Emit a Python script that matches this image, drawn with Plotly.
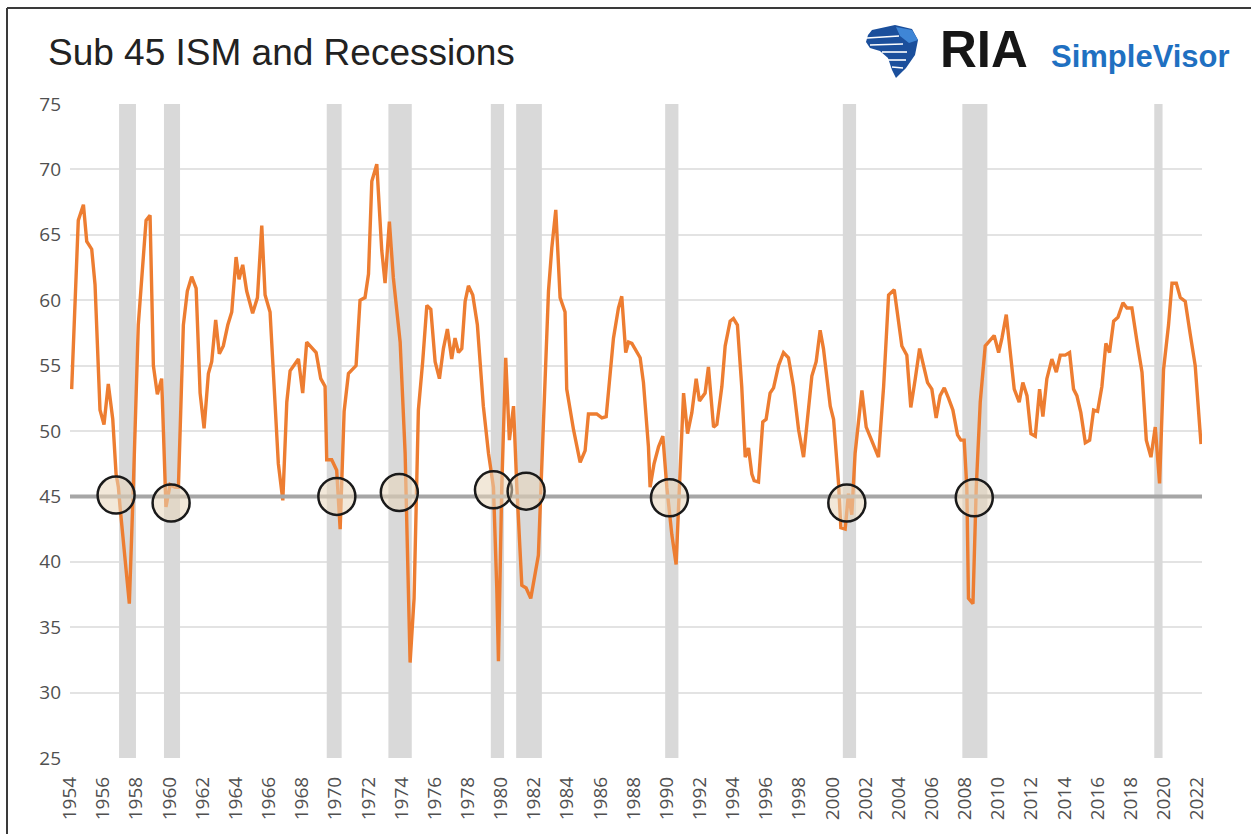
import plotly.graph_objects as go

# ---------------- data ----------------
YEARS = [
    1954.10, 1954.50, 1954.81, 1955.01, 1955.31, 1955.51, 1955.81, 1956.05, 1956.31, 1956.58,
    1956.78, 1956.92, 1957.02, 1957.28, 1957.58, 1957.82, 1958.12, 1958.59, 1958.83, 1959.03,
    1959.27, 1959.53, 1959.79, 1960.04, 1960.34, 1960.54, 1960.84, 1961.08, 1961.34, 1961.61,
    1961.85, 1962.09, 1962.35, 1962.55, 1962.79, 1963.01, 1963.25, 1963.52, 1963.76, 1964.02,
    1964.20, 1964.42, 1964.66, 1965.02, 1965.31, 1965.57, 1965.77, 1966.07, 1966.57, 1966.84,
    1967.08, 1967.28, 1967.78, 1968.04, 1968.28, 1968.85, 1969.13, 1969.39, 1969.49, 1969.79,
    1970.09, 1970.30, 1970.54, 1970.80, 1971.26, 1971.50, 1971.80, 1972.01, 1972.21, 1972.51,
    1972.81, 1973.01, 1973.27, 1973.51, 1973.92, 1974.22, 1974.52, 1974.76, 1975.02, 1975.28,
    1975.53, 1975.77, 1976.03, 1976.29, 1976.53, 1976.77, 1977.03, 1977.23, 1977.44, 1977.64,
    1977.84, 1978.04, 1978.30, 1978.58, 1978.94, 1979.25, 1979.55, 1979.75, 1979.85, 1980.05,
    1980.29, 1980.51, 1980.76, 1980.96, 1981.26, 1981.52, 1981.80, 1982.26, 1982.57, 1982.87,
    1983.07, 1983.31, 1983.57, 1983.87, 1983.97, 1984.38, 1984.78, 1985.08, 1985.28, 1985.78,
    1986.09, 1986.35, 1986.79, 1987.09, 1987.29, 1987.53, 1987.70, 1987.90, 1988.40, 1988.60,
    1988.90, 1989.00, 1989.24, 1989.51, 1989.77, 1990.01, 1990.31, 1990.57, 1990.77, 1991.02,
    1991.26, 1991.52, 1991.78, 1991.98, 1992.32, 1992.52, 1992.83, 1993.03, 1993.33, 1993.53,
    1993.83, 1994.03, 1994.27, 1994.53, 1994.74, 1994.94, 1995.14, 1995.28, 1995.54, 1995.80,
    1996.00, 1996.24, 1996.45, 1996.75, 1997.05, 1997.35, 1997.65, 1997.96, 1998.26, 1998.56,
    1998.76, 1999.02, 1999.26, 1999.46, 1999.87, 2000.07, 2000.37, 2000.51, 2000.77, 2000.97,
    2001.17, 2001.37, 2001.78, 2002.04, 2002.28, 2002.52, 2002.78, 2003.09, 2003.39, 2003.73,
    2003.99, 2004.19, 2004.49, 2004.73, 2005.00, 2005.26, 2005.50, 2005.74, 2006.00, 2006.26,
    2006.50, 2006.75, 2007.01, 2007.27, 2007.55, 2007.75, 2007.95, 2008.11, 2008.21, 2008.48,
    2008.68, 2008.92, 2009.22, 2009.48, 2009.76, 2010.03, 2010.23, 2010.49, 2010.73, 2010.97,
    2011.27, 2011.49, 2011.74, 2011.98, 2012.24, 2012.50, 2012.70, 2012.94, 2013.24, 2013.51,
    2013.75, 2014.05, 2014.31, 2014.55, 2014.75, 2014.99, 2015.26, 2015.52, 2015.76, 2016.00,
    2016.26, 2016.50, 2016.72, 2016.97, 2017.23, 2017.53, 2017.77, 2018.07, 2018.37, 2018.68,
    2018.94, 2019.22, 2019.48, 2019.74, 2019.98, 2020.28, 2020.49, 2020.75, 2020.99, 2021.29,
    2021.59, 2021.89, 2022.24,
]
ISM = [
    53.2, 66.1, 67.3, 64.5, 63.9, 61.2, 51.6, 50.5, 53.6, 50.9,
    46.7, 45.7, 44.2, 41.0, 36.8, 45.7, 58.1, 66.1, 66.5, 55.0,
    52.8, 54.0, 44.2, 45.9, 45.7, 45.7, 58.1, 60.7, 61.8, 60.9,
    52.9, 50.2, 54.4, 55.3, 58.5, 55.9, 56.5, 58.1, 59.1, 63.3,
    61.6, 62.7, 60.7, 59.0, 60.2, 65.7, 60.4, 59.1, 47.5, 44.7,
    52.2, 54.6, 55.5, 52.9, 56.8, 56.0, 54.0, 53.4, 47.8, 47.8,
    47.0, 42.5, 51.5, 54.4, 55.0, 60.0, 60.2, 62.0, 69.1, 70.4,
    63.8, 61.3, 66.0, 61.7, 56.8, 48.3, 32.3, 37.2, 51.6, 55.3,
    59.6, 59.3, 55.3, 54.0, 56.3, 57.8, 55.5, 57.1, 56.0, 56.3,
    59.9, 61.1, 60.4, 58.1, 51.9, 48.3, 45.7, 38.0, 32.4, 45.7,
    55.6, 49.3, 51.9, 45.7, 38.2, 38.0, 37.2, 40.5, 50.9, 60.7,
    64.0, 66.9, 60.2, 59.1, 53.2, 50.1, 47.6, 48.5, 51.3, 51.3,
    51.0, 51.1, 57.1, 59.4, 60.3, 56.0, 56.8, 56.7, 55.6, 53.7,
    48.8, 45.7, 47.5, 48.8, 49.6, 45.7, 42.1, 39.8, 45.7, 52.9,
    49.8, 51.4, 54.0, 52.3, 52.9, 54.9, 50.3, 50.5, 53.4, 56.5,
    58.4, 58.6, 58.1, 53.4, 48.0, 48.7, 46.7, 46.2, 46.1, 50.7,
    50.9, 52.9, 53.3, 55.0, 56.0, 55.6, 53.4, 50.1, 48.0, 51.4,
    54.2, 55.3, 57.7, 56.3, 51.9, 50.9, 46.0, 42.6, 42.5, 45.2,
    43.6, 48.3, 53.1, 50.3, 49.6, 48.8, 48.0, 53.4, 60.4, 60.8,
    58.6, 56.5, 55.8, 51.8, 54.0, 56.3, 55.0, 53.7, 53.2, 51.0,
    52.7, 53.3, 52.5, 51.6, 49.7, 49.3, 49.3, 45.7, 37.2, 36.8,
    45.7, 52.2, 56.5, 56.9, 57.3, 56.0, 57.1, 58.9, 56.0, 53.2,
    52.2, 53.7, 52.7, 49.8, 49.6, 53.2, 51.1, 54.0, 55.5, 54.5,
    55.8, 55.8, 56.0, 53.2, 52.7, 51.4, 49.1, 49.3, 51.6, 51.5,
    53.4, 56.7, 56.0, 58.4, 58.7, 59.8, 59.4, 59.4, 56.9, 54.5,
    49.3, 48.0, 50.3, 46.0, 54.7, 58.1, 61.3, 61.3, 60.2, 59.9,
    57.4, 55.0, 49.0,
]

THRESHOLD = 45
THRESHOLD_SPAN = [1954.0, 2022.3]

RECESSION_STARTS = [1956.96, 1959.67, 1969.49, 1973.21, 1979.39, 1980.92, 1989.91, 2000.63, 2007.84, 2019.42]
RECESSION_ENDS   = [1957.98, 1960.64, 1970.39, 1974.62, 1980.19, 1982.47, 1990.71, 2001.43, 2009.35, 2019.92]

CIRCLE_YEARS  = [1956.78, 1960.10, 1970.10, 1973.87, 1979.55, 1981.52, 1990.17, 2000.87, 2008.56]
CIRCLE_VALUES = [45.1, 44.5, 45.0, 45.3, 45.5, 45.4, 44.9, 44.5, 44.9]

X_TICKS = list(range(1954, 2023, 2))
X_TICK_LABELS = [str(y) for y in X_TICKS]
Y_TICKS = list(range(25, 80, 5))

TITLE = "Sub 45 ISM and Recessions"

# ---------------- layout geometry ----------------
W, H = 1251, 834
ML, MR, MT, MB = 70, 49, 104, 76
PW, PH = W - ML - MR, H - MT - MB


def PX(px):
    return (px - ML) / PW


def PY(py):
    return (H - MB - py) / PH


fig = go.Figure()

# ISM line
fig.add_trace(go.Scatter(
    x=YEARS, y=ISM, mode="lines",
    line=dict(color="#ED7D31", width=3.4),
    hoverinfo="x+y", showlegend=False,
))

# 45 level
fig.add_trace(go.Scatter(
    x=THRESHOLD_SPAN, y=[THRESHOLD] * len(THRESHOLD_SPAN), mode="lines",
    line=dict(color="#a6a6a6", width=4),
    hoverinfo="skip", showlegend=False, cliponaxis=False,
))

# circles
fig.add_trace(go.Scatter(
    x=CIRCLE_YEARS, y=CIRCLE_VALUES, mode="markers",
    marker=dict(size=37, color="rgba(232,214,186,0.55)",
                line=dict(color="#1a1a1a", width=2.5)),
    hoverinfo="skip", showlegend=False, cliponaxis=False,
))

shapes = []
for s, e in zip(RECESSION_STARTS, RECESSION_ENDS):
    shapes.append(dict(type="rect", xref="x", yref="y", x0=s, x1=e,
                       y0=Y_TICKS[0], y1=Y_TICKS[-1],
                       fillcolor="#d9d9d9", line=dict(width=0), layer="between"))

# outer frame (top and left edges visible)
shapes.append(dict(type="line", xref="paper", yref="paper",
                   x0=PX(7), x1=PX(1260), y0=PY(8), y1=PY(8),
                   line=dict(color="#3a3a3a", width=2)))
shapes.append(dict(type="line", xref="paper", yref="paper",
                   x0=PX(7), x1=PX(7), y0=PY(8), y1=PY(840),
                   line=dict(color="#3a3a3a", width=2)))


def poly(points):
    d = "M " + " L ".join(f"{PX(x):.5f},{PY(y):.5f}" for x, y in points) + " Z"
    return d


def polyline(points):
    return "M " + " L ".join(f"{PX(x):.5f},{PY(y):.5f}" for x, y in points)


# eagle logo (approximate)
shapes.append(dict(type="path", xref="paper", yref="paper",
                   path=poly([(872, 30), (895, 25), (912, 29), (918, 40), (915, 55), (906, 68),
                              (896, 78), (892, 70), (888, 58), (880, 51), (870, 48), (866, 42), (868, 35)]),
                   fillcolor="#1b4f9c", line=dict(width=0)))
shapes.append(dict(type="path", xref="paper", yref="paper",
                   path=poly([(896, 27), (912, 30), (918, 40), (909, 43), (900, 36)]),
                   fillcolor="#3f86d6", line=dict(width=0)))
for pts in [[(867, 38), (899, 36)], [(870, 45), (903, 44)], [(882, 52), (907, 52)],
            [(888, 60), (906, 60)], [(892, 67), (903, 68)]]:
    shapes.append(dict(type="path", xref="paper", yref="paper", path=polyline(pts),
                       line=dict(color="white", width=1.6)))

annotations = [
    dict(text="<b>RIA</b>", xref="paper", yref="paper", x=PX(984), y=PY(49),
         xanchor="center", yanchor="middle", showarrow=False,
         font=dict(family="Liberation Sans, Arial, sans-serif", size=51, color="#161616")),
    dict(text="<b>SimpleVisor</b>", xref="paper", yref="paper", x=PX(1049), y=PY(56),
         xanchor="left", yanchor="middle", showarrow=False,
         font=dict(family="Liberation Sans, Arial, sans-serif", size=31, color="#1f70c1")),
]

fig.update_layout(
    width=W, height=H,
    margin=dict(l=ML, r=MR, t=MT, b=MB, pad=0),
    paper_bgcolor="white", plot_bgcolor="white",
    title=dict(text=TITLE, x=48 / W, xanchor="left", xref="container",
               y=1 - 52 / H, yanchor="middle", yref="container",
               font=dict(family="Liberation Sans, Arial, sans-serif", size=37, color="#222222")),
    shapes=shapes,
    annotations=annotations,
    showlegend=False,
    xaxis=dict(range=[1954, 2022.3], tickmode="array", tickvals=X_TICKS, ticktext=X_TICK_LABELS,
               tickangle=-90, showgrid=False, zeroline=False, showline=False, ticks="",
               ticklabelstandoff=14,
               tickfont=dict(family="Open Sans, sans-serif", size=19, color="#505050")),
    yaxis=dict(range=[25, 75], tickmode="array", tickvals=Y_TICKS,
               showgrid=True, gridcolor="#e3e3e3", gridwidth=1.5, zeroline=False,
               showline=False, ticks="", ticklabelstandoff=8,
               tickfont=dict(family="Open Sans, sans-serif", size=19, color="#505050")),
)

fig.write_html("out.html", config={"displayModeBar": False},
               post_script="document.body.style.margin='0';")
